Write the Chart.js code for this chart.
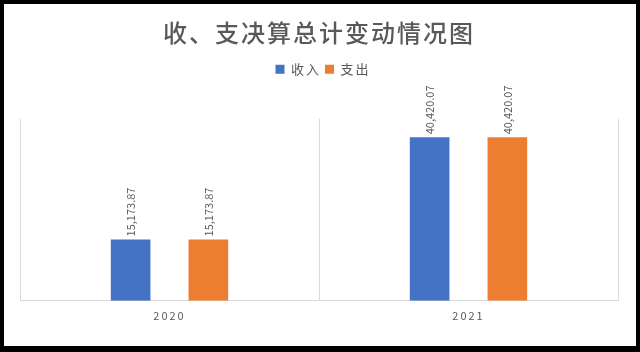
<!DOCTYPE html>
<html>
<head>
<meta charset="utf-8">
<script src="https://cdn.jsdelivr.net/npm/chart.js@4.4.0/dist/chart.umd.min.js"></script>
<style>
  html, body { margin: 0; padding: 0; background: #000; }
  #wrap { width: 640px; height: 352px; }
</style>
</head>
<body>
<div id="wrap"><canvas id="budgetChart" width="640" height="352"></canvas></div>
<script>
"use strict";

// data
const years = ["2020", "2021"];
const incomeValues = [15173.87, 40420.07];
const expenseValues = [15173.87, 40420.07];
const seriesNames = ["收入", "支出"];
const chartTitle = "收、支决算总计变动情况图";
const yMax = 45000;

const FONT = "'Noto Sans CJK SC', 'Noto Sans', sans-serif";

// black frame + white panel
const framePlugin = {
  id: "frame",
  beforeInit(chart) {
    // extra space under the legend
    const fit = chart.legend.fit;
    chart.legend.fit = function () {
      fit.call(this);
      this.height += 33;
    };
  },
  beforeDraw(chart) {
    const c = chart.ctx;
    c.save();
    c.fillStyle = "#000";
    c.fillRect(0, 0, chart.width, chart.height);
    c.fillStyle = "#fff";
    c.fillRect(4, 4, 632, 342);
    c.restore();
    c.letterSpacing = "2px";
  },
  afterDraw(chart) {
    chart.ctx.letterSpacing = "0px";
  },
};

// rotated value labels above bars
function fmt(v) {
  return v.toLocaleString("en-US", { minimumFractionDigits: 2, maximumFractionDigits: 2 });
}
const valueLabels = {
  id: "valueLabels",
  afterDatasetsDraw(chart) {
    const c = chart.ctx;
    c.save();
    c.letterSpacing = "0px";
    c.font = "11px " + FONT;
    c.fillStyle = "#595959";
    c.textAlign = "left";
    c.textBaseline = "middle";
    chart.data.datasets.forEach((ds, i) => {
      chart.getDatasetMeta(i).data.forEach((bar, j) => {
        c.save();
        c.translate(bar.x, bar.y - 3);
        c.rotate(-Math.PI / 2);
        c.fillText(fmt(ds.data[j]), 0, 0);
        c.restore();
      });
    });
    c.restore();
  },
};

new Chart(document.getElementById("budgetChart"), {
  type: "bar",
  data: {
    labels: years,
    datasets: [
      {
        label: seriesNames[0],
        data: incomeValues,
        backgroundColor: "#4472C4",
        barPercentage: 0.51,
        categoryPercentage: 0.52,
      },
      {
        label: seriesNames[1],
        data: expenseValues,
        backgroundColor: "#ED7D31",
        barPercentage: 0.51,
        categoryPercentage: 0.52,
      },
    ],
  },
  options: {
    responsive: false,
    animation: false,
    layout: { padding: { left: 20, right: 22, top: 18, bottom: 22 } },
    plugins: {
      title: {
        display: true,
        text: chartTitle,
        color: "#595959",
        font: { family: FONT, size: 24, weight: "500" },
        padding: { top: 0, bottom: 12 },
      },
      legend: {
        display: true,
        labels: {
          color: "#595959",
          font: { family: FONT, size: 13 },
          boxWidth: 9,
          boxHeight: 9,
          padding: 4,
        },
      },
      tooltip: { enabled: false },
    },
    scales: {
      x: {
        grid: { display: true, offset: true, color: "#d9d9d9", drawTicks: false },
        border: { display: true, color: "#d9d9d9" },
        ticks: { color: "#595959", font: { family: FONT, size: 11 }, padding: 8 },
      },
      y: {
        display: false,
        min: 0,
        max: yMax,
      },
    },
  },
  plugins: [framePlugin, valueLabels],
});
</script>
</body>
</html>
